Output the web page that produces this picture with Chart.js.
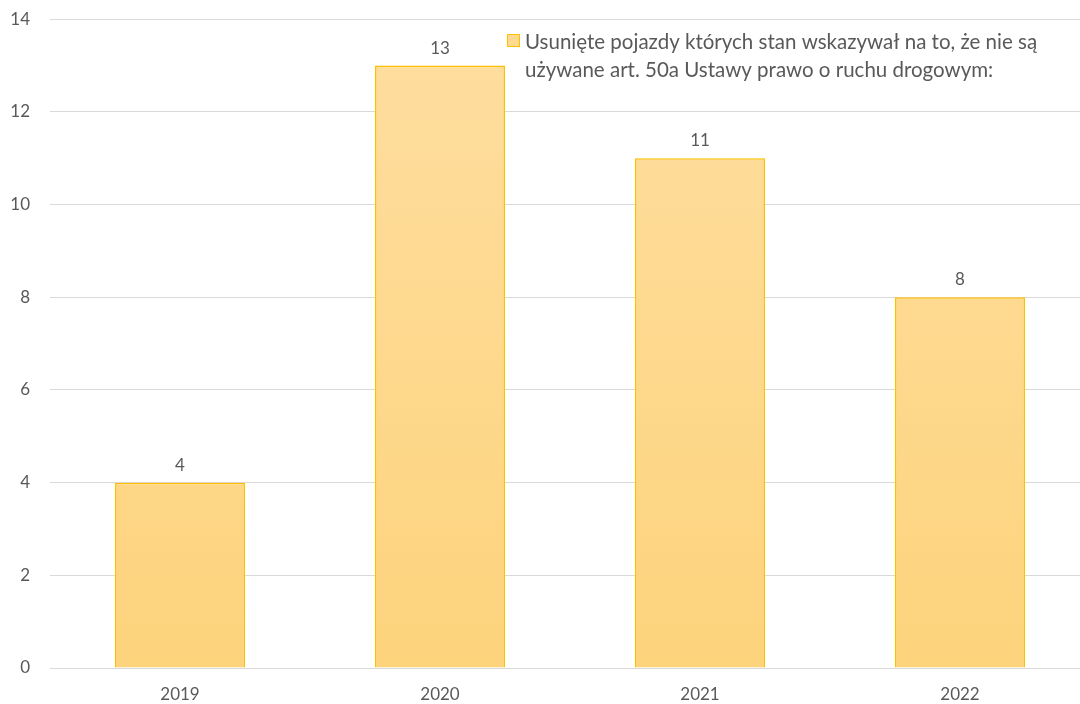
<!DOCTYPE html>
<html>
<head>
<meta charset="utf-8">
<script src="https://cdn.jsdelivr.net/npm/chart.js@4/dist/chart.umd.min.js"></script>
<style>
  html, body { margin: 0; padding: 0; background: #fff; overflow: hidden; }
  #okno { width: 1080px; height: 704px; overflow: hidden; position: relative; }
  #wrap { position: absolute; left: 0; top: -11px; width: 1090px; height: 715px; }
</style>
</head>
<body>
<div id="okno"><div id="wrap"><canvas id="wykres"></canvas></div></div>
<script>
const lata = ['2019', '2020', '2021', '2022'];
const usuniete = [4, 13, 11, 8];
const legendaLinie = [
    'Usunięte pojazdy których stan wskazywał na to, że nie są',
    'używane art. 50a Ustawy prawo o ruchu drogowym:'
];

const FONT = 'Lato, "Open Sans", sans-serif';
const GRAY = '#595959';

function gradient(ctx) {
    const area = ctx.chart.chartArea;
    if (!area) return '#FED680';
    const g = ctx.chart.ctx.createLinearGradient(0, area.top, 0, area.bottom);
    g.addColorStop(0, '#FEDEA0');
    g.addColorStop(1, '#FDD37C');
    return g;
}

const etykiety = {
    id: 'etykiety',
    afterDatasetsDraw(chart) {
        const c = chart.ctx;
        const meta = chart.getDatasetMeta(0);
        c.save();
        c.font = '17px ' + FONT;
        c.fillStyle = GRAY;
        c.textAlign = 'center';
        c.textBaseline = 'bottom';
        meta.data.forEach((bar, i) => {
            c.fillText(String(usuniete[i]), bar.x, bar.y - 9);
        });
        c.restore();
    }
};

// legenda w dwóch liniach, jak w oryginale (przesunięcie o 11px przez kontener)
const legenda = {
    id: 'legenda',
    afterDraw(chart) {
        const c = chart.ctx;
        c.save();
        c.fillStyle = '#FED98E';
        c.strokeStyle = '#FFC000';
        c.lineWidth = 1;
        c.fillRect(507.5, 45.5, 12, 12);
        c.strokeRect(507.5, 45.5, 12, 12);
        c.font = '20.5px ' + FONT;
        c.fillStyle = GRAY;
        c.textAlign = 'left';
        c.textBaseline = 'middle';
        c.fillText(legendaLinie[0], 525, 53);
        c.fillText(legendaLinie[1], 525, 81);
        c.restore();
    }
};

new Chart(document.getElementById('wykres'), {
    type: 'bar',
    data: {
        labels: lata,
        datasets: [{
            label: legendaLinie.join(' '),
            data: usuniete,
            backgroundColor: gradient,
            borderColor: '#FFC000',
            borderWidth: 1.6,
            borderSkipped: 'bottom',
            barPercentage: 0.5,
            categoryPercentage: 1
        }]
    },
    options: {
        responsive: true,
        maintainAspectRatio: false,
        animation: false,
        plugins: {
            legend: { display: false },
            tooltip: { enabled: false }
        },
        scales: {
            x: {
                grid: { display: false },
                border: { display: false },
                ticks: { color: GRAY, font: { family: FONT, size: 17 }, padding: 8 },
                afterFit(s) { s.height = 36; }
            },
            y: {
                min: 0,
                max: 14,
                ticks: { stepSize: 2, color: GRAY, font: { family: FONT, size: 17 }, padding: 20 },
                grid: { color: '#D9D9D9', drawTicks: false },
                border: { display: false },
                afterFit(s) { s.width = 50; }
            }
        }
    },
    plugins: [etykiety, legenda]
});
</script>
</body>
</html>
